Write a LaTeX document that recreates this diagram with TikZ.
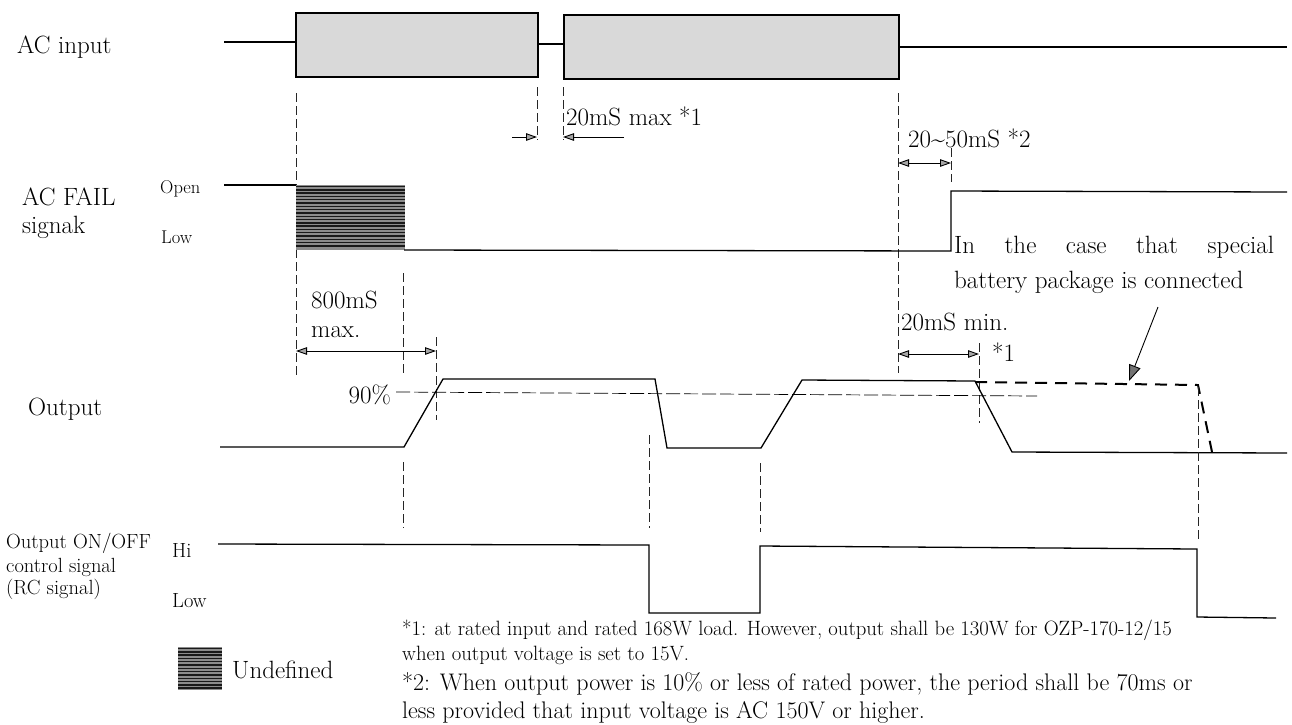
\documentclass[tikz,border=0pt]{standalone}
\usetikzlibrary{arrows.meta}
\begin{document}
\begin{tikzpicture}[x=1pt,y=-1pt,
  >={Triangle[length=11pt,width=7.5pt,fill=black!35]},
  sig/.style={line width=1.3pt},
  guide/.style={line width=0.6pt, dash pattern=on 9pt off 4pt, black!85},
  dimline/.style={line width=0.9pt},
  lbl/.style={inner sep=0pt, anchor=base west, font=\fontsize{25}{29}\selectfont},
  sublbl/.style={inner sep=0pt, anchor=base west, font=\fontsize{18.5}{22}\selectfont},
  rclbl/.style={inner sep=0pt, anchor=base west, font=\fontsize{20.5}{22.5}\selectfont},
  acbox/.style={draw=black, line width=1.3pt, fill=black!15},
]
\useasboundingbox (0,0) rectangle (1292,724);

% ---------- AC input ----------
\node[lbl] (tac) at (17,53) {AC input};
\draw[sig] (224,42) -- (296,42);
\draw[acbox] (296,13) rectangle (538,77);
\draw[sig] (538,44) -- (564,44);
\draw[acbox] (564,15) rectangle (899,79);
\draw[sig] (899,47) -- (1287,47);

% guides from AC input
\draw[guide] (296,93) -- (296,378);
\draw[guide] (537,87) -- (537,140);
\draw[guide] (563,87) -- (563,140);
\draw[guide] (898,93) -- (898,373);
\draw[guide] (951,148) -- (951,182);

% 20mS max *1
\draw[dimline,->] (512,137) -- (537,137);
\draw[dimline,->] (624,137) -- (563,137);
\node[lbl] (t20max) at (566,125) {20mS max *1};

% 20~50mS *2
\draw[dimline,<->] (898,163) -- (951,163);
\node[lbl] (t2050) at (908,147) {20\textasciitilde 50mS *2};

% ---------- AC FAIL ----------
\node[lbl] (tfail) at (22,205) {AC FAIL};
\node[lbl] (tsignak) at (22,233) {signak};
\node[sublbl] (topen) at (160,193) {Open};
\node[sublbl] (tlow1) at (161,243) {Low};
\draw[sig] (224,185) -- (296,185);
\fill[black!45] (296,185) rectangle (405,250);
\foreach \yy in {186.5,189.8,...,249} \draw[line width=1.4pt, black!90] (296,\yy) -- (405,\yy);
\draw[sig] (404,250) -- (951,251) -- (951,191) -- (1287,192);

\node[lbl] (tcase1) at (954,253) {\makebox[320pt][s]{In the case that special}};
\node[lbl] (tcase2) at (954,288) {battery package is connected};
\draw[line width=0.9pt, -{Triangle[length=16pt,width=12pt,fill=black!55]}] (1158,307) -- (1129,381);

% 800mS
\draw[guide] (403,273) -- (403,375);
\draw[guide] (436,337) -- (436,420);
\node[lbl] (t800) at (311,308) {800mS};
\node[lbl] (tmax) at (311,337) {max.};
\draw[dimline,<->] (296,351) -- (436,351);

% 20mS min
\node[lbl] (t20min) at (901,330) {20mS min.};
\draw[guide] (979,343) -- (979,423);
\draw[dimline,<->] (898,354) -- (979,354);
\node[lbl] (tstar1) at (992,361) {*1};

% ---------- Output ----------
\node[lbl] (tout) at (28,415) {Output};
\node[lbl, anchor=base east] (t90) at (391,403) {90\%};
\draw[line width=0.7pt, dash pattern=on 14pt off 4pt] (396,392) -- (1037,396);
\draw[sig] (220,447) -- (404,447) -- (443,379) -- (655,379) -- (667,448) -- (761,448)
  -- (802,380) -- (975,381) -- (1012,452) -- (1287,453);
\draw[line width=2pt, dash pattern=on 12pt off 8pt] (975,382) -- (1198,385) -- (1212,452);

% guides to RC
\draw[guide] (403,462) -- (403,528);
\draw[guide] (649,435) -- (649,528);
\draw[guide] (760,463) -- (760,532);
\draw[guide] (1198,387) -- (1198,540);

% ---------- RC signal ----------
\node[rclbl] (trc1) at (6,548) {Output ON/OFF};
\node[rclbl] (trc2) at (6,572) {control signal};
\node[rclbl] (trc3) at (6,594) {(RC signal)};
\node[rclbl] (thi) at (172,557) {Hi};
\node[rclbl] (tlow2) at (172,607) {Low};
\draw[sig] (218,544) -- (649,545) -- (649,613) -- (760,613) -- (760,546) -- (1197,549)
  -- (1197,617) -- (1276,618);

% ---------- legend ----------
\fill[black!45] (178,647) rectangle (222,690);
\foreach \yy in {648.5,651.8,...,690} \draw[line width=1.4pt, black!90] (178,\yy) -- (222,\yy);
\node[lbl] (tund) at (232,678) {Undefined};

% ---------- footnotes ----------
\node[inner sep=0pt, anchor=base west, font=\fontsize{20.7}{24}\selectfont] (fn1a) at (402,635)
  {*1: at rated input and rated 168W load. However, output shall be 130W for OZP-170-12/15};
\node[inner sep=0pt, anchor=base west, font=\fontsize{20.7}{24}\selectfont] (fn1b) at (402,660)
  {when output voltage is set to 15V.};
\node[inner sep=0pt, anchor=base west, font=\fontsize{24}{28}\selectfont] (fn2a) at (402,690)
  {*2: When output power is 10\% or less of rated power, the period shall be 70ms or};
\node[inner sep=0pt, anchor=base west, font=\fontsize{24}{28}\selectfont] (fn2b) at (402,718)
  {less provided that input voltage is AC 150V or higher.};
\end{tikzpicture}
\end{document}
